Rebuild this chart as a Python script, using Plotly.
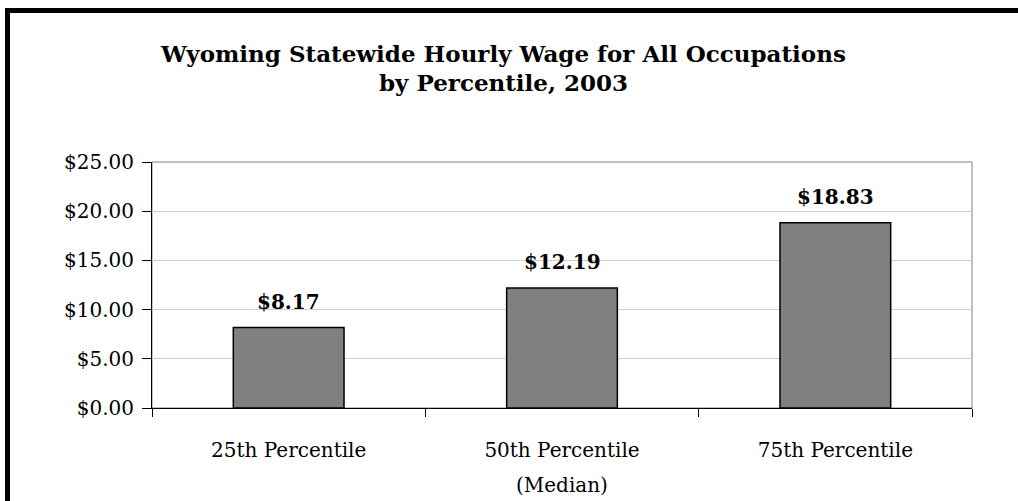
import plotly.graph_objects as go

categories = ["25th Percentile", "50th Percentile", "75th Percentile"]
sublabels = ["", "(Median)", ""]
wages = [8.17, 12.19, 18.83]
title_lines = ["Wyoming Statewide Hourly Wage for All Occupations", "by Percentile, 2003"]

W, H = 1018, 501
L, R, T, B = 152, 46, 162, 93
pw, ph = W - L - R, H - T - B

def px_x(x):
    return (x - L) / pw

def px_y(y):
    return 1 + (T - y) / ph

FONT = "DejaVu Serif"
AX = 20

fig = go.Figure()
fig.add_trace(go.Bar(
    x=categories, y=wages, width=0.405,
    marker=dict(color="#808080", line=dict(color="black", width=1.5)),
    hoverinfo="skip",
))

annotations = []
for c, v in zip(categories, wages):
    annotations.append(dict(x=c, y=v, xref="x", yref="y", text=f"<b>${v:.2f}</b>",
                            showarrow=False, yanchor="bottom", yshift=12,
                            font=dict(family=FONT, size=20, color="black")))
for c, s in zip(categories, sublabels):
    if s:
        annotations.append(dict(x=c, y=px_y(485), xref="x", yref="paper", text=s,
                                showarrow=False, yanchor="middle",
                                font=dict(family=FONT, size=AX, color="black")))
for i, (line, ypix) in enumerate(zip(title_lines, [53, 83])):
    annotations.append(dict(x=px_x(503), y=px_y(ypix), xref="paper", yref="paper",
                            text=f"<b>{line}</b>", showarrow=False, yanchor="middle",
                            xanchor="center",
                            font=dict(family=FONT, size=23, color="black")))

shapes = [
    dict(type="rect", xref="paper", yref="paper", x0=0, x1=1, y0=0, y1=1,
         line=dict(color="#808080", width=1), layer="below"),
    dict(type="rect", xref="paper", yref="paper", x0=px_x(7.5), x1=px_x(1040),
         y0=px_y(530), y1=px_y(10.5), line=dict(color="black", width=5)),
]

fig.update_layout(
    width=W, height=H,
    margin=dict(l=L, r=R, t=T, b=B, pad=0),
    paper_bgcolor="white", plot_bgcolor="white",
    showlegend=False,
    annotations=annotations,
    shapes=shapes,
    font=dict(family=FONT, size=AX, color="black"),
    xaxis=dict(
        type="category", range=[-0.5, 2.5],
        showline=True, linecolor="black", linewidth=1,
        ticks="outside", tickson="boundaries", ticklen=8, tickcolor="black",
        showgrid=False, tickfont=dict(family=FONT, size=AX, color="black"),
        ticklabelstandoff=24,
    ),
    yaxis=dict(
        range=[0, 25], dtick=5, tick0=0, tickformat="$.2f",
        showline=True, linecolor="black", linewidth=1,
        ticks="outside", ticklen=9, tickcolor="black",
        showgrid=True, gridcolor="#d0d0d0", gridwidth=1,
        zeroline=False,
        tickfont=dict(family=FONT, size=AX, color="black"),
        ticklabelstandoff=4,
    ),
)

fig.write_html("out.html", config={"displayModeBar": False},
               post_script="document.body.style.margin='0';document.body.style.overflow='hidden';")
